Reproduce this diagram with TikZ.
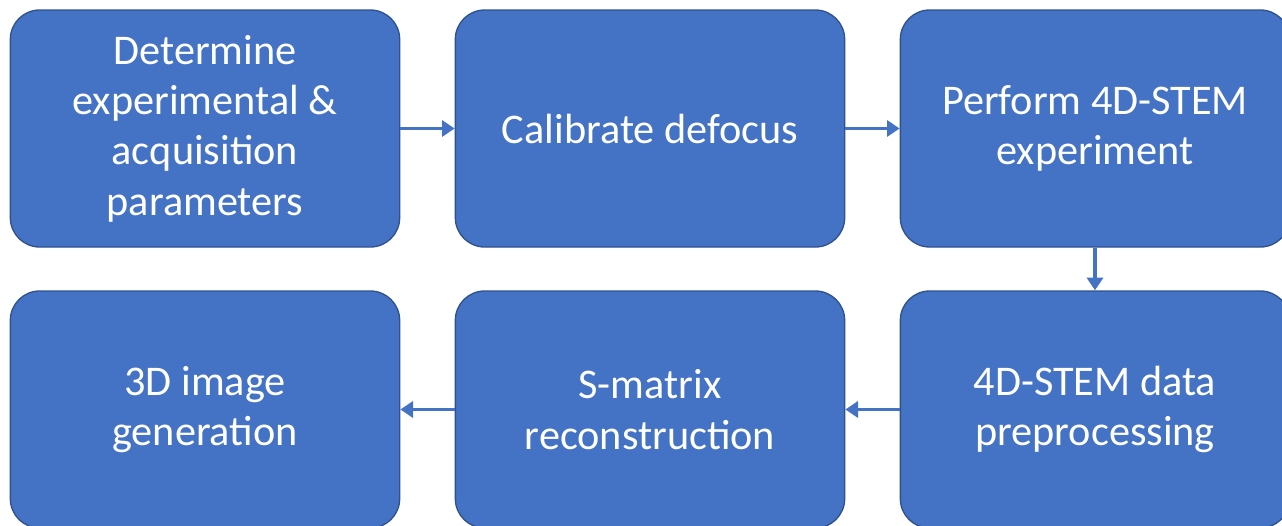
\documentclass[tikz,border=0pt]{standalone}
\usepackage{fontspec}
\setmainfont{Carlito}
\usetikzlibrary{arrows.meta}
\definecolor{boxfill}{HTML}{4472C4}
\definecolor{boxline}{HTML}{2F528F}
\tikzset{
  stepbox/.style={rectangle, rounded corners=22pt, fill=boxfill, draw=boxline, line width=1pt,
    minimum width=292pt, minimum height=177.75pt, inner sep=0pt, text=white, align=center,
    font=\fontsize{31.7}{37.8}\selectfont},
  flow/.style={draw=boxfill, line width=2.9pt, -{Triangle[length=9.5pt,width=12pt]}}
}
\begin{document}
\begin{tikzpicture}[x=0.75pt,y=-0.75pt]
\useasboundingbox (0,0) rectangle (1282,525);
\clip (0,0) rectangle (1282,525);
\node[stepbox] (b1) at (205,128.5) {Determine\\experimental \&\\acquisition\\parameters};
\node[stepbox] (b2) at (650,128.5) {Calibrate defocus};
\node[stepbox] (b3) at (1095,128.5) {Perform 4D-STEM\\experiment};
\node[stepbox] (b4) at (1095,409.5) {4D-STEM data\\preprocessing};
\node[stepbox] (b5) at (650,409.5) {S-matrix\\reconstruction};
\node[stepbox] (b6) at (205,409.5) {3D image\\generation};
\draw[flow] (b1.east) -- (b2.west);
\draw[flow] (b2.east) -- (b3.west);
\draw[flow] (b3.south) -- (b4.north);
\draw[flow] (b4.west) -- (b5.east);
\draw[flow] (b5.west) -- (b6.east);
\end{tikzpicture}
\end{document}
